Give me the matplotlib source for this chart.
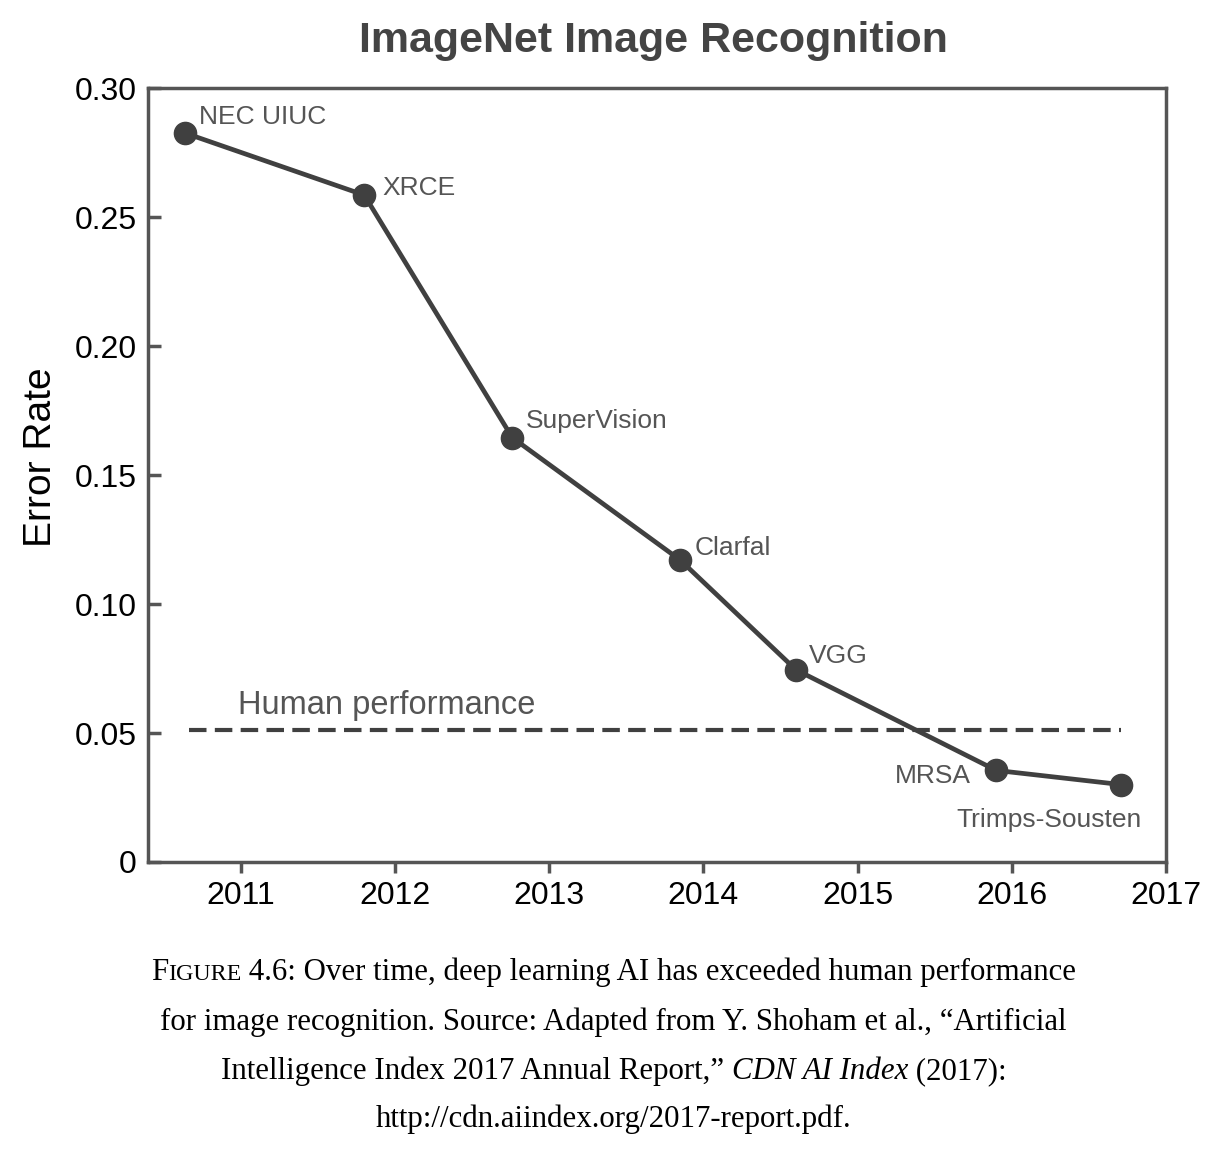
import matplotlib
matplotlib.use("Agg")
import matplotlib.pyplot as plt

# data
years = [2010.64, 2011.80, 2012.76, 2013.85, 2014.60, 2015.90, 2016.71]
error_rate = [0.2825, 0.2585, 0.1645, 0.1170, 0.0745, 0.0355, 0.0300]
teams = ["NEC UIUC", "XRCE", "SuperVision", "Clarfal", "VGG", "MRSA", "Trimps-Sousten"]
human_level = 0.051
human_span = [2010.66, 2016.71]
x_ticks = [2011, 2012, 2013, 2014, 2015, 2016, 2017]
y_ticks = [0, 0.05, 0.10, 0.15, 0.20, 0.25, 0.30]
y_labels = ["0", "0.05", "0.10", "0.15", "0.20", "0.25", "0.30"]

# label offsets in points (dx, dy, ha, va)
label_pos = [
    (10, 3, "left", "bottom"),
    (13, 5, "left", "center"),
    (10, 3, "left", "bottom"),
    (10, 9, "left", "center"),
    (9, 10, "left", "center"),
    (-18, -4, "right", "center"),
    (15, -17, "right", "top"),
]

line_c = "#404040"
text_c = "#555555"

plt.rcParams["font.family"] = ["Liberation Sans", "DejaVu Sans"]

fig = plt.figure(figsize=(12.2, 11.6), dpi=100)
ax = fig.add_axes([0.1213, 0.2569, 0.8344, 0.6672])

ax.plot(years, error_rate, color=line_c, lw=3.4, marker="o", ms=16,
        mfc=line_c, mec=line_c, zorder=3)
ax.hlines(human_level, human_span[0], human_span[1], colors=line_c,
          linestyles=(0, (4.2, 2.0)), lw=3.0)
ax.text(2010.98, human_level + 0.0035, "Human performance",
        fontsize=23.5, color=text_c, ha="left", va="bottom")

for x, y, name, (dx, dy, ha, va) in zip(years, error_rate, teams, label_pos):
    ax.annotate(name, (x, y), xytext=(dx, dy), textcoords="offset points",
                ha=ha, va=va, fontsize=19, color=text_c)

ax.set_xlim(2010.397, 2017)
ax.set_ylim(0, 0.30)
ax.set_xticks(x_ticks)
ax.set_xticklabels([str(t) for t in x_ticks])
ax.set_yticks(y_ticks)
ax.set_yticklabels(y_labels)
ax.tick_params(axis="x", direction="out", length=8, width=2.5, color=text_c,
               labelsize=23, pad=6)
ax.tick_params(axis="y", direction="in", length=9, width=2.5, color=text_c,
               labelsize=23, pad=8)
for s in ax.spines.values():
    s.set_color(text_c)
    s.set_linewidth(2.5)
ax.set_ylabel("Error Rate", fontsize=28)
ax.yaxis.set_label_coords(-0.087, 0.523)

fig.text(0.5355, 0.982, "ImageNet Image Recognition", ha="center", va="top",
         fontsize=31, fontweight="bold", color="#444444")


def caption_line(segments, y_px, size=22.2):
    # draw text pieces side by side, then center the whole line
    fig.canvas.draw()
    r = fig.canvas.get_renderer()
    texts = []
    for s, style, scale in segments:
        t = fig.text(0, 1 - y_px / 1160, s, family="Liberation Serif",
                     style=style, fontsize=size * scale, va="baseline")
        texts.append(t)
    widths = [t.get_window_extent(r).width for t in texts]
    x = 1220 * 0.503 - sum(widths) / 2
    for t, w in zip(texts, widths):
        t.set_x(x / 1220)
        x += w


caption_line([("F", "normal", 1.0), ("IGURE", "normal", 0.78),
              (" 4.6: Over time, deep learning AI has exceeded human performance", "normal", 1.0)], 980)
caption_line([("for image recognition. Source: Adapted from Y. Shoham et al., \u201cArtificial", "normal", 1.0)], 1030)
caption_line([("Intelligence Index 2017 Annual Report,\u201d ", "normal", 1.0),
              ("CDN AI Index", "italic", 1.0), (" (2017):", "normal", 1.0)], 1079)
caption_line([("http://cdn.aiindex.org/2017-report.pdf.", "normal", 1.0)], 1127)

fig.savefig("out.png", dpi=100)
